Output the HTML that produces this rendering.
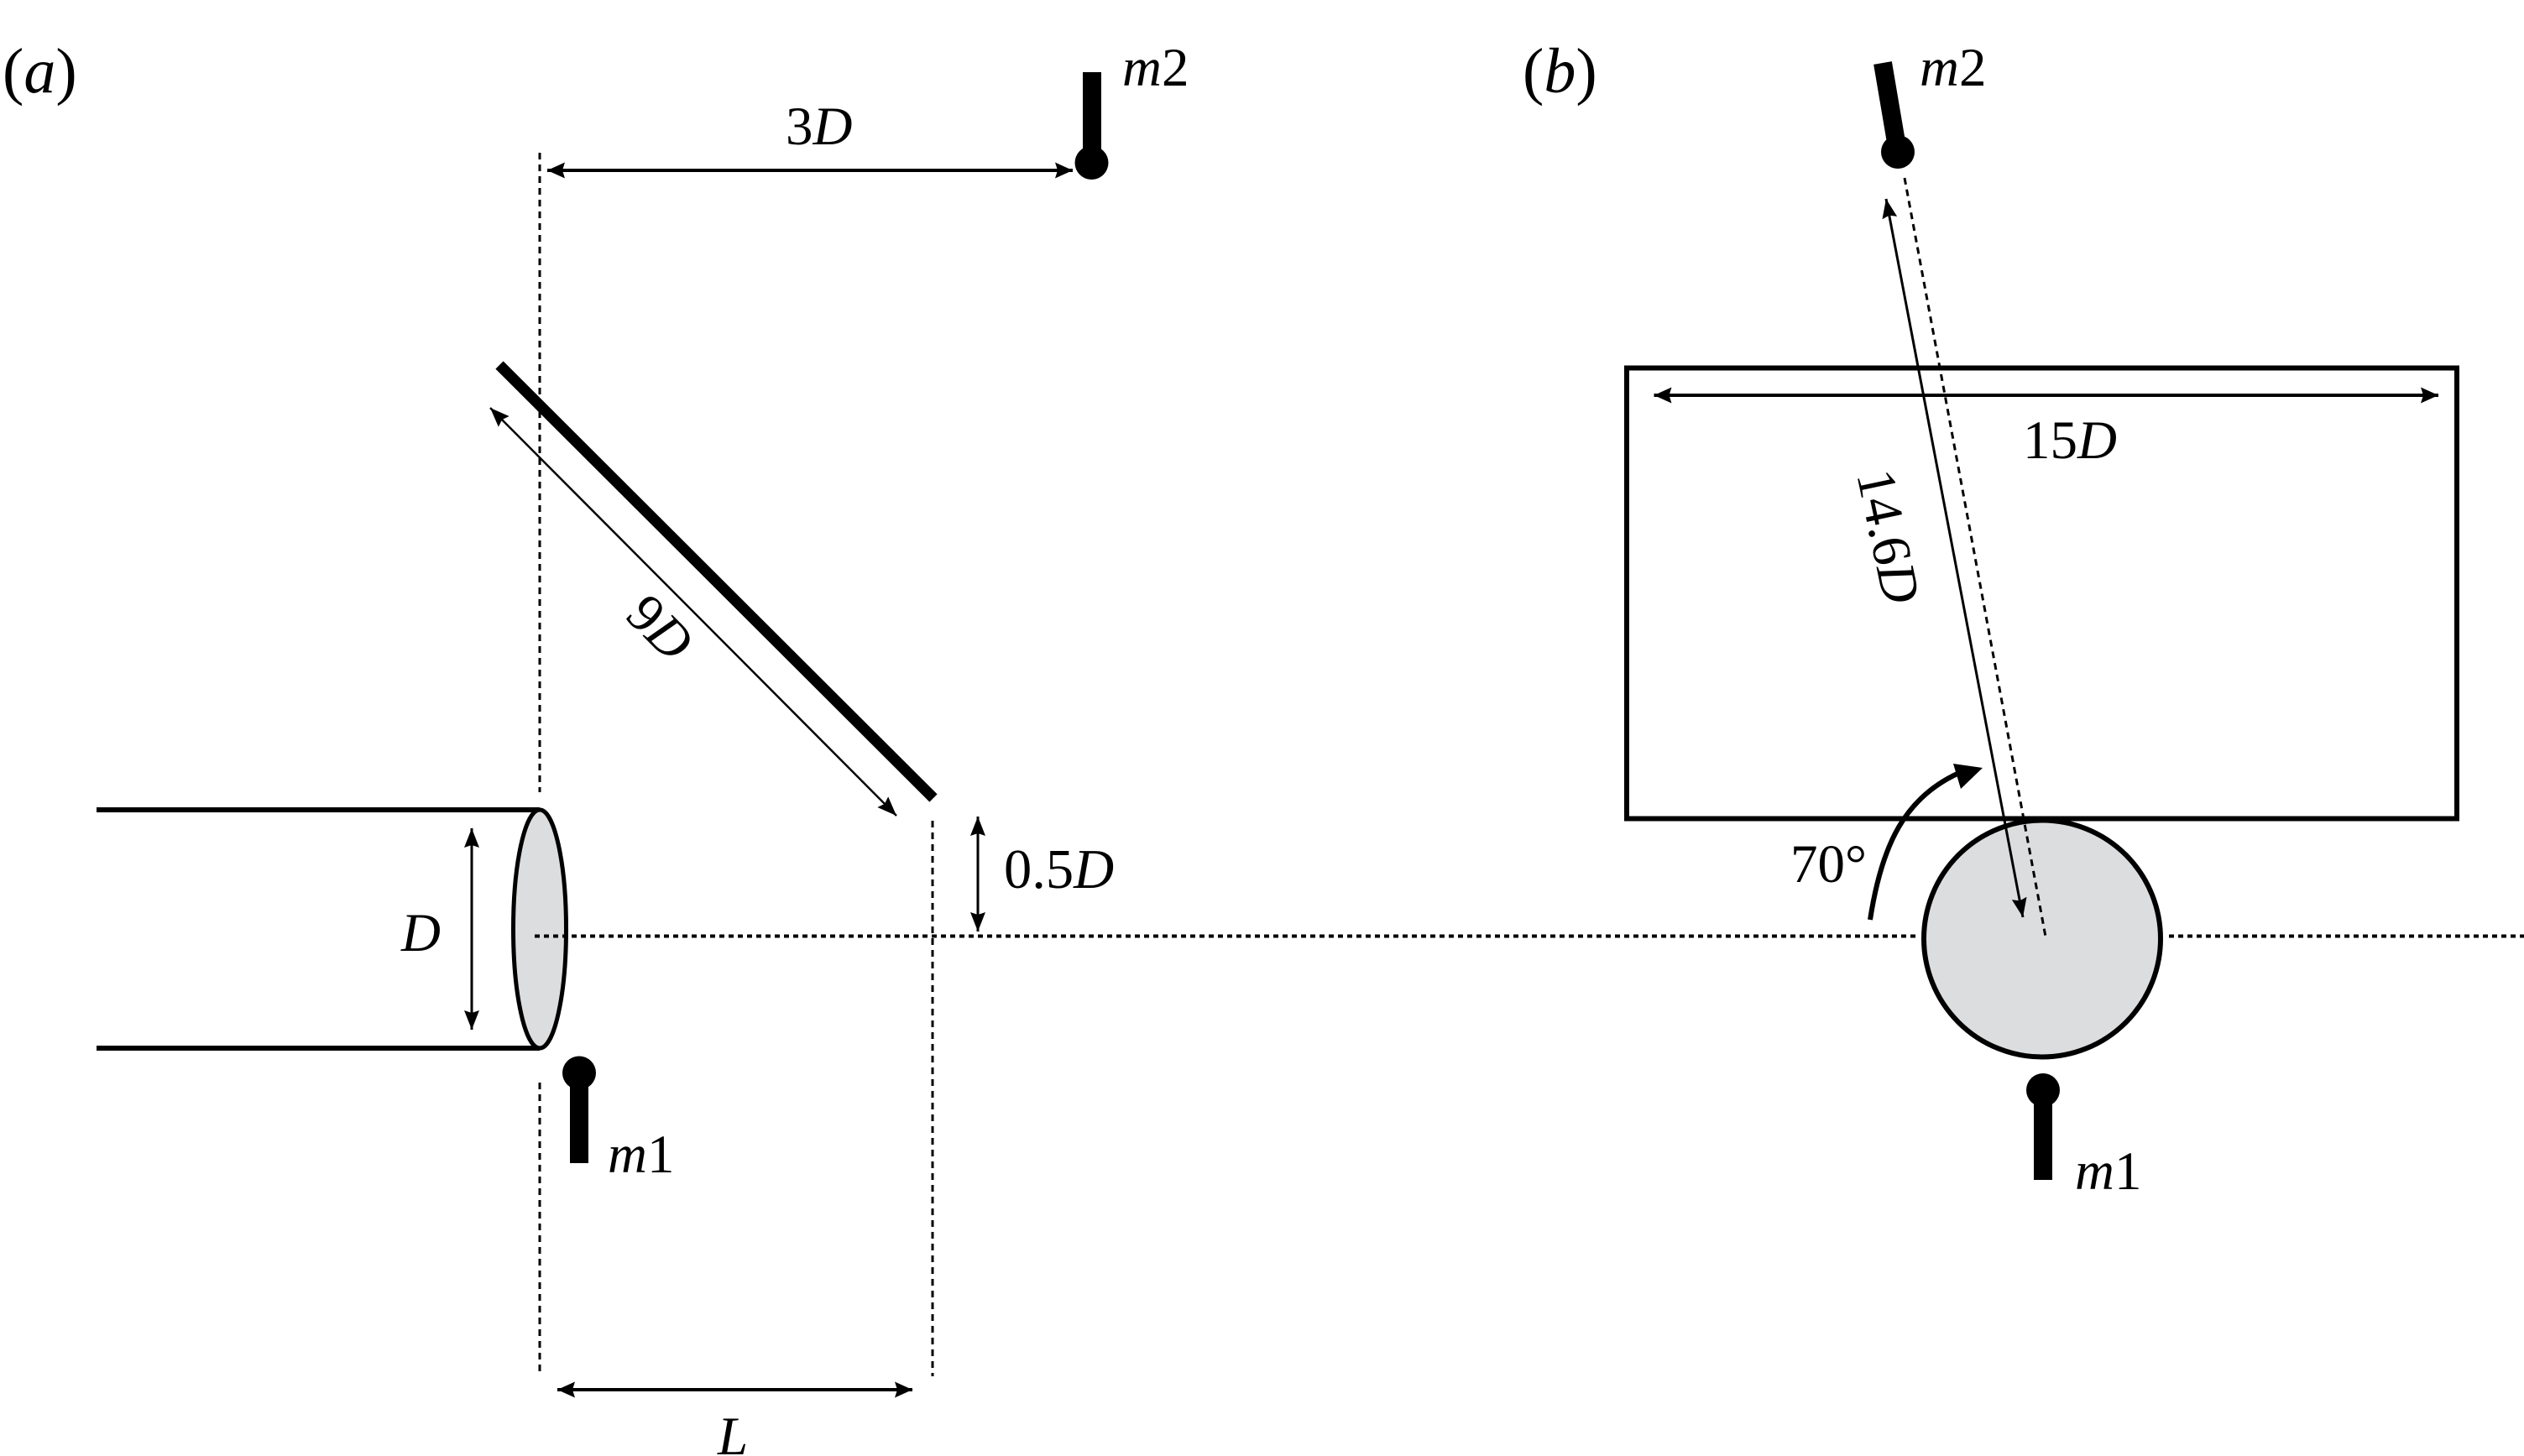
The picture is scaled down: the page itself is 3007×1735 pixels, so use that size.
<!DOCTYPE html>
<html><head><meta charset="utf-8"><style>
html,body{margin:0;padding:0;background:#fff}
svg{display:block}
text{font-family:"Liberation Serif",serif;font-size:65px;fill:#000}
.i{font-style:italic}
.u{font-style:normal}
</style></head><body>
<svg xmlns="http://www.w3.org/2000/svg" width="3007" height="1735" viewBox="0 0 3007 1735">
<rect width="3007" height="1735" fill="#fff"/>
<defs>
<marker id="a" markerUnits="userSpaceOnUse" markerWidth="24" markerHeight="20" refX="21" refY="9.500" orient="auto-start-reverse"><path d="M0 0L21 9.500L0 19L3 9.500z"/></marker>
<marker id="t" markerUnits="userSpaceOnUse" markerWidth="26" markerHeight="20" refX="23" refY="9" orient="auto-start-reverse"><path d="M0 0L23 9L0 18L3 9z"/></marker>
</defs>

<!-- panel a -->
<g fill="none" stroke="#000" stroke-width="3" stroke-dasharray="8 6">
<path d="M643 182V944M643 1290V1640M1111 978V1640"/>
</g>
<path d="M637 1115.500H2285M2584 1115.500H3007" fill="none" stroke="#000" stroke-width="4" stroke-dasharray="6 5"/>

<path d="M115 965H643M115 1249H643" stroke="#000" stroke-width="6" fill="none"/>
<ellipse cx="643" cy="1107" rx="31.500" ry="142" fill="#dcddde" stroke="#000" stroke-width="5"/>
<path d="M637 1115.500H676" fill="none" stroke="#000" stroke-width="4" stroke-dasharray="6 5"/>

<path d="M595 435L1112 951" stroke="#000" stroke-width="13" fill="none"/>
<path d="M584 486L1068 972" stroke="#000" stroke-width="2.500" fill="none" marker-start="url(#t)" marker-end="url(#t)"/>
<path d="M652 203H1278" stroke="#000" stroke-width="4" fill="none" marker-start="url(#a)" marker-end="url(#a)"/>
<path d="M664 1656H1087" stroke="#000" stroke-width="4" fill="none" marker-start="url(#a)" marker-end="url(#a)"/>
<path d="M562 987V1227" stroke="#000" stroke-width="3" fill="none" marker-start="url(#t)" marker-end="url(#t)"/>
<path d="M1165 973V1110" stroke="#000" stroke-width="3" fill="none" marker-start="url(#t)" marker-end="url(#t)"/>

<rect x="1290" y="86" width="22" height="108"/><circle cx="1300.500" cy="194" r="20"/>
<rect x="679" y="1278" width="22" height="108"/><circle cx="690" cy="1278.500" r="20"/>

<text x="3" y="110" style="font-size:76px">(<tspan class="i">a</tspan>)</text>
<text x="936" y="172">3<tspan class="i">D</tspan></text>
<text x="1337" y="102"><tspan class="i">m</tspan>2</text>
<text x="478" y="1133" class="i">D</text>
<text x="724" y="1397"><tspan class="i">m</tspan>1</text>
<text x="1196" y="1058" style="font-size:66.500px">0.5<tspan class="i">D</tspan></text>
<text x="855" y="1733" class="i">L</text>
<text transform="translate(743 735) rotate(45)">9<tspan class="i">D</tspan></text>

<!-- panel b -->
<circle cx="2433" cy="1118.500" r="141" fill="#dcddde" stroke="#000" stroke-width="6"/>
<rect x="1938" y="438.500" width="989" height="537" fill="none" stroke="#000" stroke-width="6"/>
<path d="M2269 212L2437 1116" fill="none" stroke="#000" stroke-width="3" stroke-dasharray="8 6"/>
<path d="M2247 237L2410 1093" stroke="#000" stroke-width="3" fill="none" marker-start="url(#t)" marker-end="url(#t)"/>
<path d="M1970.500 471H2905" stroke="#000" stroke-width="4" fill="none" marker-start="url(#a)" marker-end="url(#a)"/>
<path d="M2228 1096C2242 1005 2270 950 2334 921" stroke="#000" stroke-width="6" fill="none"/>
<path d="M2362 915L2327 910L2336 940z"/>

<path d="M2243 75L2261 181" stroke="#000" stroke-width="22" fill="none"/>
<circle cx="2261" cy="181" r="20"/>
<rect x="2423" y="1299" width="22" height="107"/><circle cx="2434" cy="1299" r="20"/>

<text x="1814" y="110" style="font-size:76px">(<tspan class="i">b</tspan>)</text>
<text x="2287" y="102"><tspan class="i">m</tspan>2</text>
<text x="2410" y="546">15<tspan class="i">D</tspan></text>
<text transform="translate(2212 565) rotate(78)">14.6<tspan class="i">D</tspan></text>
<text x="2133" y="1051">70°</text>
<text x="2472" y="1417"><tspan class="i">m</tspan>1</text>
</svg>
</body></html>
